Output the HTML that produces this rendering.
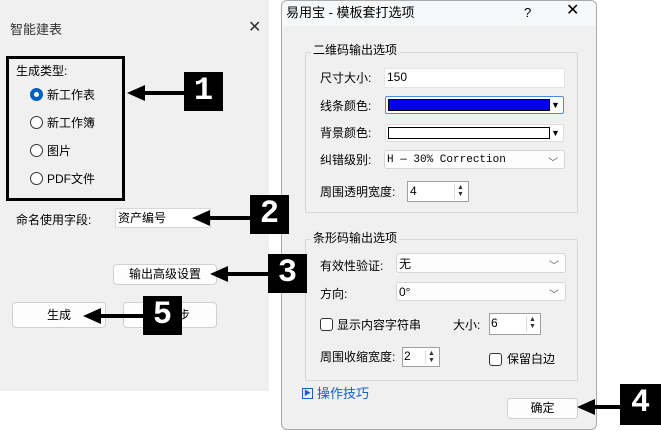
<!DOCTYPE html>
<html><head><meta charset="utf-8"><style>
*{margin:0;padding:0;box-sizing:border-box}
body{width:661px;height:431px;background:#fff;position:relative;overflow:hidden;font-family:"Liberation Sans","Noto Sans CJK SC",sans-serif;font-size:12px;color:#000}
.a{position:absolute}
.t{position:absolute;white-space:nowrap;line-height:14px}
.btn{position:absolute;background:#fdfdfd;border:1px solid #d0d0d0;border-radius:4px;text-align:center}
.inp{position:absolute;background:#fff;border:1px solid #d9d9d9}
.combo{position:absolute;background:#fdfdfd;border:1px solid #d5d5d5;border-radius:3px}
.chev{position:absolute;right:6px;top:3px;font-size:10px;color:#555}
.spin{position:absolute;background:#fff;border:1px solid #a0a0a0}
.spin .ud{position:absolute;right:2px;top:2px;width:12px;bottom:2px;border-left:1px solid #ddd;font-size:7px;line-height:7px;text-align:center;color:#333}
.grp{position:absolute;border:1px solid #d8d8d8;border-radius:2px}
.lbl{position:absolute;background:#000;color:#fff;font-family:"Liberation Mono",monospace;font-weight:bold;font-size:32px;text-align:center;line-height:38px}
.cb{position:absolute;width:13px;height:13px;border:1px solid #333;border-radius:3px;background:#fff}
.rad{position:absolute;width:13px;height:13px;border:1px solid #333;border-radius:50%;background:#fff}
</style></head><body>
<div class="a" style="left:0;top:0;width:269px;height:391px;background:#f0f0f0"></div>
<div class="t" style="left:10px;top:23px;font-size:13px;color:#333">智能建表</div>
<div class="t" style="left:248px;top:21px;font-size:16px;color:#333">✕</div>
<div class="a" style="left:6px;top:56px;width:119px;height:145px;border:3px solid #000"></div>
<div class="t" style="left:16px;top:64px">生成类型:</div>
<div class="rad" style="left:30px;top:88px;border:4px solid #0060c0"></div>
<div class="t" style="left:47px;top:88px">新工作表</div>
<div class="rad" style="left:30px;top:116px"></div>
<div class="t" style="left:47px;top:116px">新工作簿</div>
<div class="rad" style="left:30px;top:144px"></div>
<div class="t" style="left:47px;top:144px">图片</div>
<div class="rad" style="left:30px;top:172px"></div>
<div class="t" style="left:47px;top:172px">PDF文件</div>
<div class="t" style="left:16px;top:213px">命名使用字段:</div>
<div class="inp" style="left:115px;top:208px;width:96px;height:20px"></div>
<div class="t" style="left:118px;top:211px">资产编号</div>
<div class="btn" style="left:113px;top:264px;width:104px;height:21px;line-height:19px">输出高级设置</div>
<div class="btn" style="left:12px;top:302px;width:94px;height:26px;line-height:24px">生成</div>
<div class="btn" style="left:123px;top:302px;width:94px;height:26px"></div>
<div class="t" style="left:178px;top:308px">步</div>
<div class="a" style="left:281px;top:0;width:316px;height:430px;background:#f0f0f0;border:1px solid #aaa;border-radius:6px"></div>
<div class="a" style="left:282px;top:1px;width:314px;height:25px;background:#f6f8fa;border-radius:6px 6px 0 0"></div>
<div class="t" style="left:286px;top:6px;font-size:13px">易用宝 - 模板套打选项</div>
<div class="t" style="left:524px;top:6px;font-size:13px">?</div>
<div class="t" style="left:566px;top:4px;font-size:16px">✕</div>
<div class="grp" style="left:305px;top:52px;width:273px;height:161px"></div>
<div class="t" style="left:311px;top:43px;background:#f0f0f0;padding:0 2px">二维码输出选项</div>
<div class="t" style="left:320px;top:71px">尺寸大小:</div>
<div class="inp" style="left:384px;top:68px;width:181px;height:20px;border-color:#e5e5e5"></div>
<div class="t" style="left:387px;top:70px">150</div>
<div class="t" style="left:320px;top:99px">线条颜色:</div>
<div class="a" style="left:385px;top:96px;width:179px;height:18px;border:1px solid #4a90d9;border-radius:2px;background:#fff"></div>
<div class="a" style="left:388px;top:99px;width:162px;height:12px;background:#0000f0;border:1px solid #000"></div>
<div class="t" style="left:551px;top:98px;font-size:9px">▼</div>
<div class="t" style="left:320px;top:126px">背景颜色:</div>
<div class="a" style="left:385px;top:124px;width:179px;height:18px;border:1px solid #ddd;border-radius:2px;background:#fff"></div>
<div class="a" style="left:388px;top:127px;width:162px;height:12px;background:#fff;border:1px solid #000"></div>
<div class="t" style="left:551px;top:126px;font-size:9px">▼</div>
<div class="t" style="left:320px;top:153px">纠错级别:</div>
<div class="combo" style="left:384px;top:150px;width:181px;height:19px"><span class="chev">﹀</span></div>
<div class="t" style="left:387px;top:153px;font-family:'Liberation Mono',monospace;font-size:11px">H — 30%  Correction</div>
<div class="t" style="left:320px;top:185px">周围透明宽度:</div>
<div class="spin" style="left:407px;top:181px;width:62px;height:21px"><div class="ud">▲<br>▼</div></div>
<div class="t" style="left:410px;top:184px">4</div>
<div class="grp" style="left:305px;top:239px;width:273px;height:142px"></div>
<div class="t" style="left:311px;top:231px;background:#f0f0f0;padding:0 2px">条形码输出选项</div>
<div class="t" style="left:320px;top:259px">有效性验证:</div>
<div class="combo" style="left:396px;top:253px;width:170px;height:20px"><span class="chev">﹀</span></div>
<div class="t" style="left:399px;top:257px">无</div>
<div class="t" style="left:320px;top:287px">方向:</div>
<div class="combo" style="left:396px;top:282px;width:170px;height:19px"><span class="chev">﹀</span></div>
<div class="t" style="left:399px;top:285px">0°</div>
<div class="cb" style="left:320px;top:318px"></div>
<div class="t" style="left:337px;top:318px">显示内容字符串</div>
<div class="t" style="left:453px;top:318px">大小:</div>
<div class="spin" style="left:489px;top:313px;width:52px;height:22px"><div class="ud">▲<br>▼</div></div>
<div class="t" style="left:491px;top:316px">6</div>
<div class="t" style="left:320px;top:350px">周围收缩宽度:</div>
<div class="spin" style="left:402px;top:347px;width:38px;height:20px"><div class="ud">▲<br>▼</div></div>
<div class="t" style="left:404px;top:349px">2</div>
<div class="cb" style="left:489px;top:353px"></div>
<div class="t" style="left:507px;top:352px">保留白边</div>
<div class="a" style="left:302px;top:388px;width:11px;height:11px;border:1px solid #1a5fc8;font-size:7px;color:#1a5fc8;line-height:9px;text-align:center">▶</div>
<div class="t" style="left:317px;top:387px;color:#1a5fc8;font-size:13px">操作技巧</div>
<div class="btn" style="left:507px;top:398px;width:71px;height:21px;line-height:19px">确定</div>
<svg class="a" style="left:0;top:0" width="661" height="431">
<g fill="#000">
<rect x="140" y="91" width="45" height="4"/><polygon points="127,93 145,85 145,101"/>
<rect x="205" y="216" width="46" height="4"/><polygon points="192,218 210,210 210,226"/>
<rect x="222" y="272" width="47" height="4"/><polygon points="210,274 228,266 228,282"/>
<rect x="96" y="314" width="48" height="4"/><polygon points="83,316 101,308 101,324"/>
<rect x="590" y="405" width="31" height="4"/><polygon points="577,407 595,399 595,415"/>
</g></svg>
<div class="lbl" style="left:184px;top:72px;width:39px;height:39px">1</div>
<div class="lbl" style="left:250px;top:195px;width:39px;height:39px">2</div>
<div class="lbl" style="left:268px;top:254px;width:39px;height:39px">3</div>
<div class="lbl" style="left:620px;top:384px;width:41px;height:41px">4</div>
<div class="lbl" style="left:143px;top:296px;width:39px;height:39px">5</div>
</body></html>
